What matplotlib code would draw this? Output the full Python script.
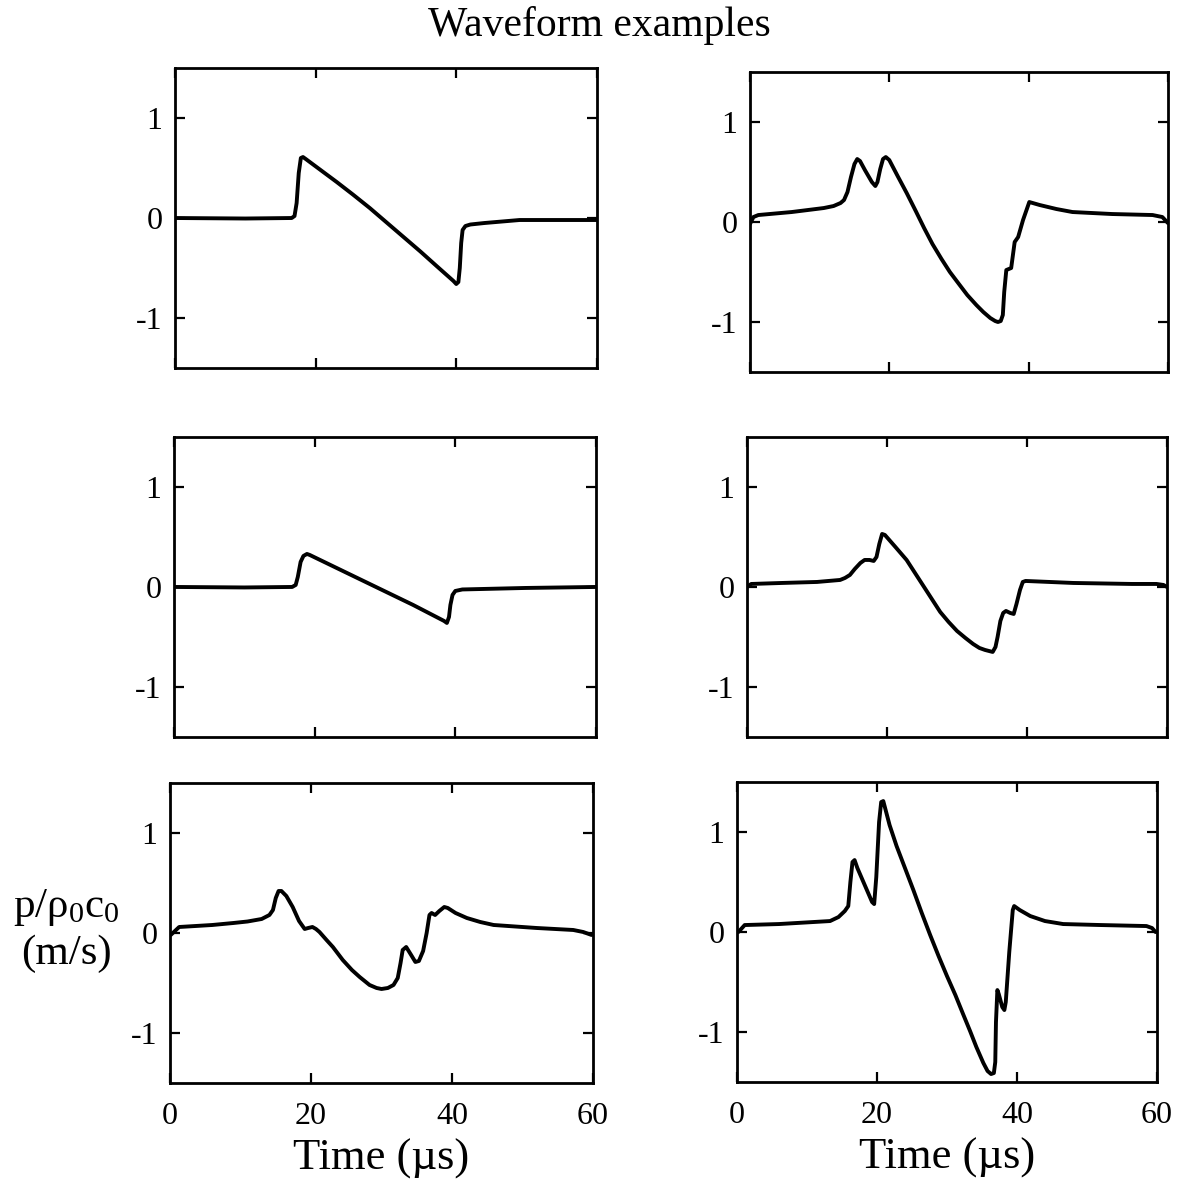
import numpy as np
import matplotlib
matplotlib.use('Agg')
import matplotlib.pyplot as plt

# Fonts: Times-like serif for everything, subscripts through mathtext
plt.rcParams['font.family'] = ['Liberation Serif', 'DejaVu Serif']
plt.rcParams['mathtext.fontset'] = 'custom'
plt.rcParams['mathtext.rm'] = 'Liberation Serif'
plt.rcParams['mathtext.it'] = 'Liberation Serif:italic'
plt.rcParams['axes.unicode_minus'] = False

# Waveform samples (time in microseconds, p/rho0c0 in m/s)
t_top_left = [0, 10, 16.6, 17.0, 17.3, 17.6, 17.9, 18.2, 18.6, 20.8, 23.0, 25.3, 27.7,
              30.1, 32.5, 34.9, 37.2, 39.6, 40.0, 40.3, 40.5, 40.7, 40.9, 41.3, 42, 44,
              49, 60]
p_top_left = [0, -0.005, 0, 0.02, 0.15, 0.45, 0.60, 0.61, 0.59, 0.475, 0.36, 0.235, 0.10,
              -0.045, -0.19, -0.335, -0.48, -0.63, -0.66, -0.64, -0.50, -0.25, -0.12, -0.08,
              -0.065, -0.05, -0.02, -0.02]

t_top_right = [0, 0.5, 1.2, 6, 10.6, 12, 13.0, 13.5, 14.0, 14.5, 15.0, 15.4, 15.8, 16.5,
               17.5, 18.0, 18.3, 18.7, 19.1, 19.5, 20.0, 21.2, 22.5, 23.8, 25.0, 26.2,
               27.5, 28.7, 30.0, 31.2, 32.5, 33.5, 34.5, 35.2, 35.6, 36.0, 36.3, 36.5,
               36.8, 37.5, 38.0, 38.5, 39.2, 40.1, 41.6, 44, 46.3, 52, 57.8, 59.2, 60]
p_top_right = [-0.02, 0.05, 0.07, 0.10, 0.14, 0.16, 0.19, 0.22, 0.30, 0.45, 0.58, 0.63,
               0.61, 0.52, 0.40, 0.36, 0.40, 0.53, 0.63, 0.65, 0.62, 0.46, 0.29, 0.11,
               -0.06, -0.22, -0.37, -0.50, -0.62, -0.73, -0.83, -0.90, -0.96, -0.99, -1.0,
               -0.99, -0.93, -0.70, -0.48, -0.46, -0.20, -0.15, 0.02, 0.20, 0.17, 0.13,
               0.10, 0.08, 0.07, 0.05, -0.01]

t_mid_left = [0, 10, 16.8, 17.3, 17.6, 18.0, 18.4, 18.9, 19.3, 24, 29, 34, 38.4, 38.8,
              39.1, 39.3, 39.6, 40.0, 41, 44, 50, 60]
p_mid_left = [0, -0.005, 0, 0.02, 0.10, 0.25, 0.31, 0.33, 0.32, 0.16, -0.01, -0.18, -0.34,
              -0.36, -0.30, -0.18, -0.08, -0.04, -0.025, -0.02, -0.01, 0.0]

t_mid_right = [0, 0.6, 5, 10, 13.3, 14.0, 14.7, 15.4, 16.2, 16.8, 17.5, 18.1, 18.5, 18.9,
               19.3, 19.7, 21.2, 22.8, 24.0, 25.2, 26.4, 27.6, 28.8, 30.0, 31.2, 32.3,
               33.2, 34.0, 35.1, 35.5, 35.8, 36.2, 36.6, 37.0, 37.6, 38.1, 38.5, 39.0,
               39.4, 39.8, 46.6, 55, 58.5, 59.5, 60]
p_mid_right = [0.0, 0.03, 0.04, 0.05, 0.07, 0.09, 0.12, 0.18, 0.24, 0.27, 0.27, 0.26,
               0.30, 0.43, 0.53, 0.52, 0.40, 0.27, 0.14, 0.01, -0.12, -0.25, -0.35, -0.44,
               -0.51, -0.57, -0.61, -0.63, -0.65, -0.60, -0.50, -0.34, -0.26, -0.24,
               -0.26, -0.27, -0.17, -0.03, 0.05, 0.06, 0.04, 0.03, 0.03, 0.02, 0.0]

t_bot_left = [0.1, 1.3, 6, 9, 11, 13, 14.1, 14.6, 15.0, 15.4, 15.8, 16.5, 17.4, 18.3,
              19.1, 19.6, 20.2, 20.7, 21.2, 22.2, 23.1, 24.5, 25.8, 26.9, 28.3, 29.3,
              30.0, 30.9, 31.7, 32.3, 32.7, 33.0, 33.5, 34.2, 34.8, 35.3, 35.9, 36.4,
              36.8, 37.1, 37.6, 38.2, 38.9, 39.4, 40.5, 42.1, 44, 45.9, 52, 57.2, 58.6,
              59.8]
p_bot_left = [-0.02, 0.06, 0.08, 0.10, 0.115, 0.14, 0.18, 0.23, 0.35, 0.42, 0.42, 0.37,
              0.26, 0.12, 0.04, 0.05, 0.06, 0.04, 0.01, -0.07, -0.14, -0.27, -0.37, -0.44,
              -0.52, -0.55, -0.56, -0.55, -0.52, -0.45, -0.30, -0.17, -0.14, -0.22, -0.29,
              -0.28, -0.18, 0.0, 0.18, 0.20, 0.18, 0.22, 0.26, 0.25, 0.20, 0.15, 0.11,
              0.08, 0.05, 0.03, 0.01, -0.02]

t_bot_right = [0.2, 1.1, 6, 13.3, 14.5, 15.4, 15.9, 16.2, 16.5, 16.8, 17.2, 19.3, 19.6,
               19.9, 20.3, 20.6, 20.9, 21.8, 22.8, 24.0, 25.2, 26.4, 27.6, 28.8, 30.0,
               31.2, 32.3, 33.3, 34.2, 35.2, 35.8, 36.3, 36.7, 36.9, 37.0, 37.2, 37.4,
               37.9, 38.2, 38.4, 38.9, 39.4, 39.6, 40.4, 41.9, 44, 46.6, 52, 58.5, 59.3,
               59.8]
p_bot_right = [0.0, 0.07, 0.08, 0.11, 0.15, 0.21, 0.26, 0.50, 0.70, 0.72, 0.64, 0.30,
               0.28, 0.55, 1.10, 1.30, 1.31, 1.07, 0.86, 0.64, 0.42, 0.19, -0.03, -0.24,
               -0.44, -0.63, -0.82, -0.99, -1.15, -1.31, -1.39, -1.42, -1.41, -1.30,
               -0.90, -0.58, -0.62, -0.75, -0.78, -0.70, -0.20, 0.22, 0.26, 0.22, 0.16,
               0.11, 0.08, 0.07, 0.06, 0.04, 0.0]

panels = [(t_top_left, p_top_left), (t_top_right, p_top_right),
          (t_mid_left, p_mid_left), (t_mid_right, p_mid_right),
          (t_bot_left, p_bot_left), (t_bot_right, p_bot_right)]

x_ticks = [0, 20, 40, 60]
y_ticks = [-1, 0, 1]

# axes rectangles in figure fractions (left, bottom, width, height)
rects = [[0.1484, 0.6884, 0.3579, 0.2540], [0.6361, 0.6850, 0.3545, 0.2540],
         [0.1476, 0.3760, 0.3579, 0.2540], [0.6336, 0.3760, 0.3562, 0.2540],
         [0.1442, 0.0830, 0.3588, 0.2540], [0.6251, 0.0838, 0.3562, 0.2540]]

fig = plt.figure(figsize=(11.79, 11.81), dpi=100)

for i, (t, p) in enumerate(panels):
    ax = fig.add_axes(rects[i])
    ax.plot(t, p, color='black', linewidth=2.8, solid_joinstyle='round',
            solid_capstyle='round')
    ax.set_xlim(0, 60)
    ax.set_ylim(-1.5, 1.5)
    ax.set_xticks(x_ticks)
    ax.set_yticks(y_ticks)
    ax.tick_params(direction='in', length=7, width=1.6, top=True, right=True,
                   labelsize=23)
    ax.tick_params(axis='y', pad=9)
    ax.tick_params(axis='x', pad=14)
    for s in ax.spines.values():
        s.set_linewidth(2.0)
    if i < 4:
        ax.set_xticklabels([])
    else:
        ax.set_xlabel('Time (µs)', fontsize=32, labelpad=5)

fig.text(0.508, 1 - 36 / 1181, 'Waveform examples', fontsize=30,
         ha='center', va='baseline')
fig.text(66 / 1179, 1 - 930 / 1181, 'p/ρ$_0$c$_0$\n(m/s)', fontsize=31,
         ha='center', va='center', multialignment='center', linespacing=1.25)

plt.savefig('out.png', dpi=100)
